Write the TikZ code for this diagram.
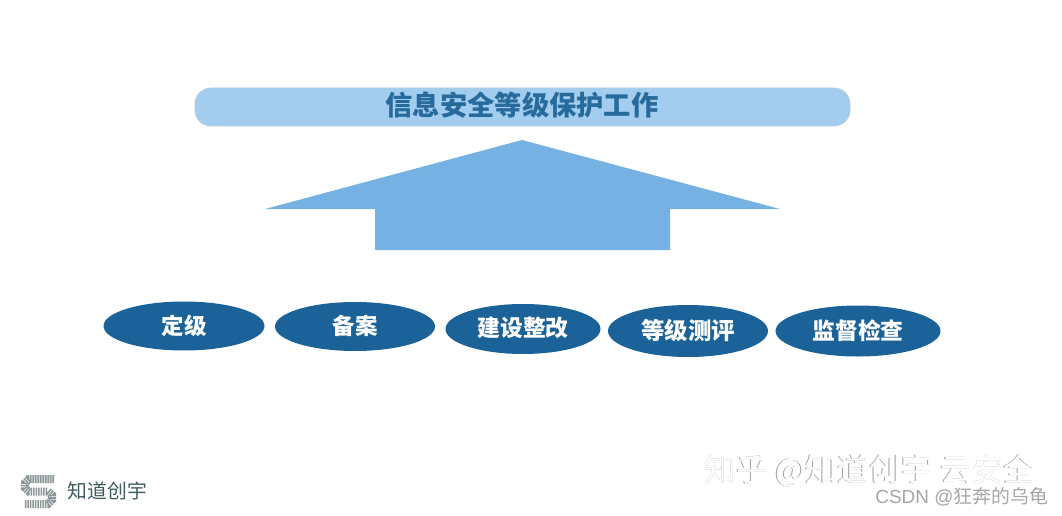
\documentclass[tikz,border=0pt]{standalone}
\usepackage{fontspec}
\usetikzlibrary{shapes.geometric}
\setmainfont{Liberation Sans}
\newfontfamily\cjk{Noto Sans CJK SC}
\newcommand{\ovalsize}[1]{\fontsize{#1}{#1}\selectfont}
\definecolor{barfill}{HTML}{A3CDEE}
\definecolor{barline}{HTML}{B4CFE2}
\definecolor{titleblue}{HTML}{276A9C}
\definecolor{arrowfill}{HTML}{75B2E3}
\definecolor{ovalfill}{HTML}{1A6298}
\definecolor{logoink}{HTML}{3F5C5E}
\definecolor{logogray}{HTML}{8C9698}
\definecolor{markedge}{HTML}{A0A0A0}
\definecolor{csdn}{HTML}{A6A6A6}
\tikzset{
  oval/.style={ellipse,fill=ovalfill,text=white,inner sep=0pt,font=\cjk\bfseries},
  titlebar/.style={rounded corners=16pt,fill=barfill,draw=barline,line width=0.8pt},
  bigarrow/.style={fill=arrowfill},
  logostroke/.style={draw=logogray,line width=8pt,dash pattern=on 1.6pt off 0.9pt},
  markfont/.style={font=\cjk\fontsize{31.8}{31.8}\selectfont}
}
\begin{document}
\begin{tikzpicture}[x=1pt,y=-1pt]
\useasboundingbox (0,0) rectangle (1062,516);
\fill[white] (0,0) rectangle (1062,516);
% title bar
\path[titlebar] (195,88) rectangle (850,126);
\node[text=titleblue,font=\cjk\bfseries\fontsize{27.3}{27.3}\selectfont] (title) at (522,105) {信息安全等级保护工作};
% arrow
\path[bigarrow] (522,140) -- (780,209) -- (670,209) -- (670,250) -- (375,250) -- (375,209) -- (265,209) -- cycle;
% ovals
\node[oval,minimum width=161pt,minimum height=49pt] (o1) at (184,326) {\ovalsize{22.5}\raisebox{2pt}{定级}};
\node[oval,minimum width=160pt,minimum height=49pt] (o2) at (355,326.5) {\ovalsize{22.5}\raisebox{3pt}{备案}};
\node[oval,minimum width=155pt,minimum height=50pt] (o3) at (523,329) {\ovalsize{22.8}\raisebox{4pt}{建设整改}};
\node[oval,minimum width=160pt,minimum height=52pt] (o4) at (688,331) {\ovalsize{23.4}\raisebox{2pt}{等级测评}};
\node[oval,minimum width=165pt,minimum height=51pt] (o5) at (858,331) {\ovalsize{22.8}\raisebox{2pt}{监督检查}};
% logo
\draw[logostroke] (54,479) -- (29,479) -- (25,483) -- (25,488) -- (29,491.5) -- (48,491.5) -- (52,495) -- (52,500) -- (48,504) -- (24,504);
\node[text=logoink,font=\cjk\fontsize{19.8}{19.8}\selectfont] (logotext) at (107.5,490.5) {知道创宇};
% watermarks
\node[markfont,text=markedge] (m1) at (869.4,470.4) {知乎 @知道创宇 云安全};
\node[markfont,text=white] (m2) at (870.2,471.2) {知乎 @知道创宇 云安全};
\node[text=csdn,font=\fontsize{18.9}{18.9}\selectfont,anchor=east] (csdn) at (1051.5,497) {CSDN @{\cjk 狂奔的乌龟}};
\end{tikzpicture}
\end{document}
